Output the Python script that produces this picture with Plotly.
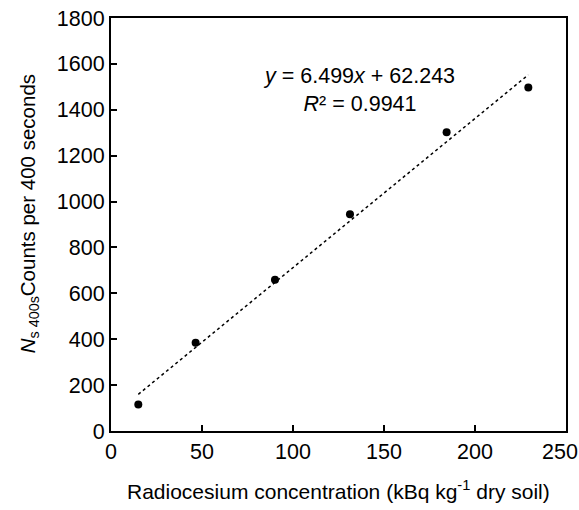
import plotly.graph_objects as go

conc = [15.0, 46.5, 90.1, 131.3, 184.4, 229.3]
counts = [115, 385, 659, 945, 1302, 1497]
slope = 6.499
intercept = 62.243
x_ticks = [0, 50, 100, 150, 200]
x_last_tick = [250]
y_ticks = [0, 200, 400, 600, 800, 1000, 1200, 1400, 1600, 1800]

font = "Liberation Sans"
fit_x = [min(conc), max(conc)]
fit_y = [slope * v + intercept for v in fit_x]

fig = go.Figure()
fig.add_trace(go.Scatter(x=fit_x, y=fit_y, mode="lines",
                         line=dict(color="black", width=1.5, dash="dot"),
                         showlegend=False, hoverinfo="skip"))
fig.add_trace(go.Scatter(x=conc, y=counts, mode="markers",
                         marker=dict(color="black", size=8),
                         showlegend=False))
# invisible helper trace so the overlay axis carrying the last tick label is drawn
fig.add_trace(go.Scatter(x=conc, y=counts, mode="markers", xaxis="x2",
                         marker=dict(color="rgba(0,0,0,0)", size=1),
                         showlegend=False, hoverinfo="skip"))

tickfont = dict(family=font, size=21.5, color="black")
axis_common = dict(showline=True, linecolor="black", linewidth=2, mirror=True,
                   ticks="inside", ticklen=6, tickwidth=1.5, tickcolor="black",
                   showgrid=False, zeroline=False, ticklabeloverflow="allow",
                   automargin=False, tickfont=tickfont)
fig.update_xaxes(range=[0, 250], tickvals=x_ticks, **axis_common)
fig.update_yaxes(range=[0, 1800], tickvals=y_ticks, **axis_common)
fig.update_layout(xaxis2=dict(overlaying="x", anchor="y", side="bottom", range=[0, 250],
                              tickvals=x_last_tick, ticks="inside", ticklen=6, tickwidth=1.5,
                              tickcolor="black", showline=True, linecolor="black", linewidth=2,
                              showgrid=False, zeroline=False, automargin=False,
                              ticklabelshift=-6, ticklabeloverflow="allow", tickfont=tickfont))

fig.add_annotation(x=0.5, y=-0.143, xref="paper", yref="paper", showarrow=False,
                   text="Radiocesium concentration (kBq kg<sup>-1</sup> dry soil)",
                   font=dict(family=font, size=21, color="black"), xanchor="center", yanchor="middle")
fig.add_annotation(x=-0.18, y=0.525, xref="paper", yref="paper", showarrow=False, textangle=-90,
                   text="<i>N</i><sub>s 400s</sub>Counts per 400 seconds",
                   font=dict(family=font, size=20.5, color="black"), xanchor="center", yanchor="middle")
fig.add_annotation(x=0.545, y=0.826, xref="paper", yref="paper", showarrow=False,
                   text="<i>y</i> = 6.499<i>x</i> + 62.243<br><i>R</i>² = 0.9941",
                   align="center",
                   font=dict(family=font, size=21.5, color="black"), xanchor="center", yanchor="middle")

fig.update_layout(width=579, height=510, plot_bgcolor="white", paper_bgcolor="white",
                  margin=dict(l=111, r=13, t=18, b=79, autoexpand=False), showlegend=False)
fig.write_html("out.html")
